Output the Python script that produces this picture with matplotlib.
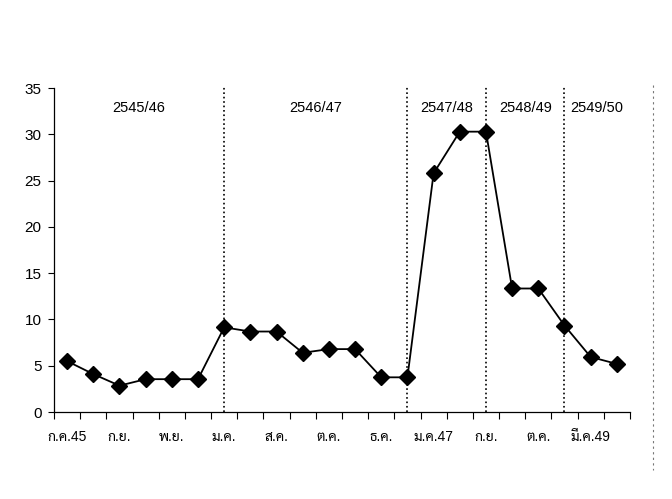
import matplotlib
matplotlib.use("Agg")
import matplotlib.pyplot as plt
from matplotlib.lines import Line2D

plt.rcParams['font.family'] = ['Liberation Sans', 'Sarabun', 'DejaVu Sans']

# values
values = [5.5, 4.1, 2.85, 3.55, 3.55, 3.55, 9.15, 8.7, 8.7, 6.4, 6.8,
          6.8, 3.75, 3.75, 25.8, 30.3, 30.3, 13.35, 13.35, 9.35, 5.95, 5.2]
month_labels = ["ก.ค.45", "", "ก.ย.", "", "พ.ย.", "", "ม.ค.", "", "ส.ค.", "",
                "ต.ค.", "", "ธ.ค.", "", "ม.ค.47", "", "ก.ย.", "", "ต.ค.", "",
                "มี.ค.49", ""]
period_names = ["2545/46", "2546/47", "2547/48", "2548/49", "2549/50"]
period_starts = [0, 6, 13, 16, 19]   # index where each period begins

x = list(range(len(values)))

fig = plt.figure(figsize=(6.72, 4.99), dpi=100)
ax = fig.add_axes([0.0804, 0.1743, 0.857, 0.649])

ax.plot(x, values, color='black', lw=1.3, marker='D', ms=8.5,
        mfc='black', mec='black', zorder=3)

ax.set_xlim(-0.5, len(values) - 0.5)
ax.set_ylim(0, 35)
ax.set_yticks(range(0, 36, 5))
ax.tick_params(axis='y', direction='out', length=4, width=0.8,
               labelsize=11, pad=5)

# category axis: ticks sit between the points, labels under every other point
ax.set_xticks([i - 0.5 for i in range(len(values) + 1)])
ax.set_xticklabels([])
ax.tick_params(axis='x', direction='out', length=5, width=0.8)
for i, lab in enumerate(month_labels):
    if lab:
        ax.text(i, -2.75, lab, ha='center', va='center', fontsize=10)

for s in ['top', 'right']:
    ax.spines[s].set_visible(False)
ax.spines['left'].set_linewidth(0.9)
ax.spines['bottom'].set_linewidth(0.9)

# period separators and headings
bounds = period_starts[1:] + [len(values) - 0.5]
left = -0.5
for name, start, end in zip(period_names, period_starts, bounds):
    if start > 0:
        ax.axvline(start, ymin=0, ymax=1.005, color='black', ls=':', lw=1.2,
                   clip_on=False)
    ax.text((left + end) / 2, 32.9, name, ha='center', va='center',
            fontsize=10.5)
    left = end

# faint page edge from the scan
fig.add_artist(Line2D([653 / 672, 653 / 672], [1 - 85 / 499, 1 - 470 / 499],
                      transform=fig.transFigure, color='#777777', ls=(0, (2, 3)),
                      lw=0.8))

fig.savefig("out.png", dpi=100)
